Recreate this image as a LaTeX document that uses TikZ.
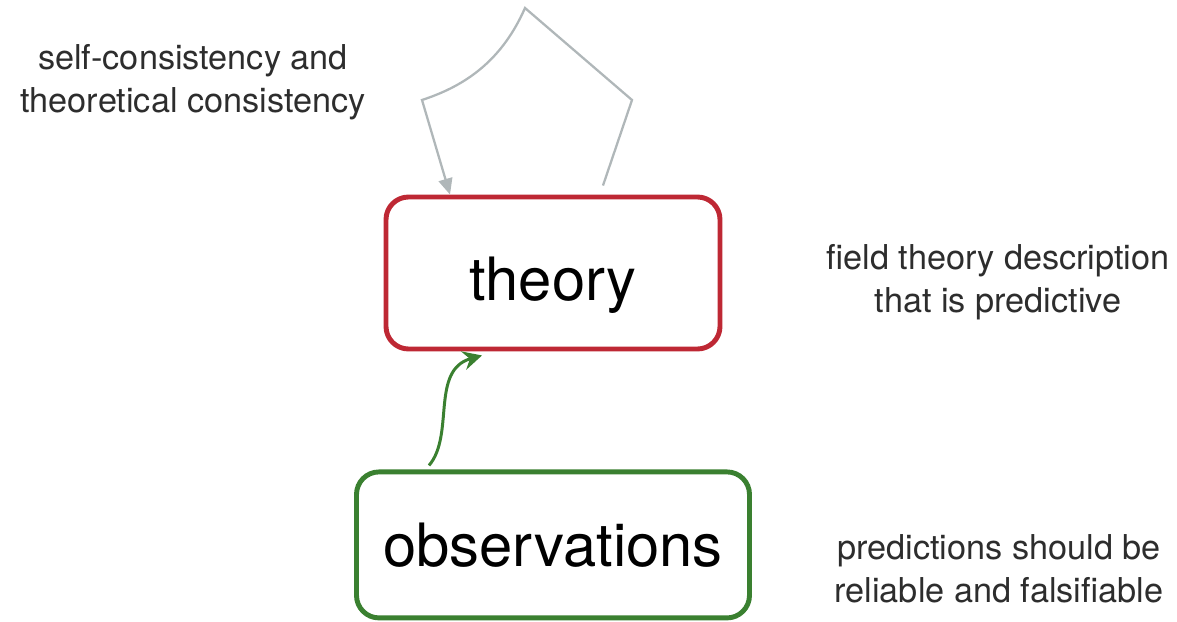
\documentclass[tikz,border=0pt]{standalone}
\usepackage{fontspec}
\setmainfont{TeX Gyre Heros}
\usepackage{xcolor}
\usepackage{tikz}
\usetikzlibrary{arrows.meta, positioning, calc}
\definecolor{theoryRed}{RGB}{190, 40, 52}
\definecolor{obsGreen}{RGB}{58, 128, 48}
\definecolor{loopGray}{RGB}{176, 183, 185}
\definecolor{textGray}{RGB}{45, 45, 45}

\begin{document}
\begin{tikzpicture}[
    node distance=2.36cm,
    theorybox/.style={rectangle, draw=theoryRed, fill=white, rounded corners=0.45cm, line width=2.8pt, minimum width=6.68cm, minimum height=3.04cm, font=\fontsize{34}{40}\selectfont},
    obsbox/.style={rectangle, draw=obsGreen, fill=white, rounded corners=0.45cm, line width=2.8pt, minimum width=7.86cm, minimum height=2.92cm, font=\fontsize{34}{40}\selectfont},
    note/.style={align=center, text=textGray, font=\fontsize{19.5}{24.4}\selectfont},
    loopflow/.style={draw=loopGray, line width=1.3pt, -{Triangle[length=3.2mm, width=2.8mm]}},
    greenflow/.style={draw=obsGreen, line width=1.7pt, -{Stealth[length=3.8mm, width=3.8mm, inset=1.3mm]}}
  ]
    \useasboundingbox (0,0) rectangle (23.54,-12.44);
    \node[theorybox] (theory) at (11.06,-5.46) {\raisebox{-0.54cm}[0pt][0pt]{theory}};
    \node[obsbox, below=of theory] (obs) {observations};

    \node[note] (selfcons) at (3.86,-1.64) {self-consistency and\\theoretical consistency};
    \node[note] (fieldth) at (19.96,-5.64) {field theory description\\that is predictive};
    \node[note] (predict) at (19.98,-11.38) {predictions should be\\reliable and falsifiable};

    % self loop above the theory box
    \coordinate (loopstart) at ($(theory.north)+(1.0,0.18)$);
    \coordinate (loopend) at ($(theory.north)+(-2.06,0)$);
    \path[loopflow] (loopstart) -- (12.64,-2.0) -- (10.5,-0.16)
      .. controls (10.0,-1.3) and (9.2,-1.75) .. (8.44,-2.0) -- (loopend);

    % observations feed the theory
    \path[greenflow] ($(obs.north)+(-2.48,0.08)$) .. controls (9.1,-8.7) and (8.6,-7.4) .. ($(theory.south)+(-1.42,-0.08)$);
  \end{tikzpicture}
\end{document}
